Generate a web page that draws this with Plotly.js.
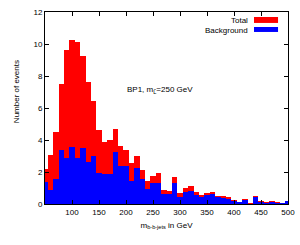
<!DOCTYPE html>
<html><head><meta charset="utf-8">
<script src="https://cdn.plot.ly/plotly-3.0.1.min.js"></script>
<style>html,body{margin:0;padding:0;background:#fff}#chart{width:300px;height:245px}</style>
</head><body><div id="chart"></div>
<script>
const binCenters = [50,60,70,80,90,100,110,120,130,140,150,160,170,180,190,200,210,220,230,240,250,260,270,280,290,300,310,320,330,340,350,360,370,380,390,400,410,420,430,440,450,460,470,480,490,500];
const totalEvents = [2.2,3.05,4.5,7.5,9.65,10.25,10.1,9.25,7.65,6.45,4.6,3.85,4.0,4.7,3.6,3.35,2.55,3.0,2.1,1.45,1.75,1.95,0.85,0.8,1.67,0.67,0.98,1.15,0.73,0.54,0.7,0.72,0.53,0.48,0.42,0.25,0.15,0.29,0.04,0.52,0.19,0.1,0.19,0.1,0.07,0.19];
const backgroundEvents = [1.4,0.9,1.55,3.35,2.85,3.55,2.85,3.5,2.6,3.0,1.95,1.85,1.9,3.25,2.4,2.4,1.45,2.25,1.55,0.93,1.3,1.33,0.65,0.6,1.3,0.46,0.77,0.79,0.55,0.42,0.56,0.6,0.42,0.4,0.33,0.2,0.1,0.24,0.02,0.46,0.15,0.08,0.15,0.08,0.04,0.19];
const xTickVals = [100,150,200,250,300,350,400,450,500];
const yTickVals = [0,2,4,6,8,10,12];
const seriesNames = ["Total","Background"];

const FONT = "Liberation Sans, Arial, sans-serif";
const traces = [
  {type:"bar", x:binCenters, y:totalEvents, width:10, name:seriesNames[0],
   marker:{color:"#ff0000", line:{width:0}}, showlegend:false},
  {type:"bar", x:binCenters, y:backgroundEvents, width:10, name:seriesNames[1],
   marker:{color:"#0000ff", line:{width:0}}, showlegend:false}
];
const axisCommon = {showline:true, linecolor:"#000", linewidth:1, mirror:"ticks",
  ticks:"inside", ticklen:4, tickcolor:"#000", showgrid:false, zeroline:false,
  tickfont:{family:FONT, size:8, color:"#000"}};
const layout = {
  width:300, height:245, margin:{l:45, r:12, t:12, b:41},
  paper_bgcolor:"#fff", plot_bgcolor:"#fff", barmode:"overlay", bargap:0,
  showlegend:false,
  xaxis: Object.assign({}, axisCommon, {range:[50,500], tickvals:xTickVals,
    title:{text:"m<sub>b-b-jets</sub> in GeV", font:{family:FONT, size:8, color:"#000"}, standoff:6}}),
  yaxis: Object.assign({}, axisCommon, {range:[0,12], tickvals:yTickVals}),
  annotations:[
    {xref:"paper", yref:"paper", x:-0.119, y:0.583, text:"Number of events", textangle:-90,
     showarrow:false, font:{family:FONT, size:8, color:"#000"}, xanchor:"center", yanchor:"middle"},
    {xref:"paper", yref:"paper", x:0.329, y:0.594, text:"BP1, m<sub>L̃</sub>=250 GeV",
     showarrow:false, font:{family:FONT, size:8, color:"#000"}, xanchor:"left", yanchor:"middle"},
    {xref:"paper", yref:"paper", x:0.844, y:0.958, text:seriesNames[0],
     showarrow:false, font:{family:FONT, size:8, color:"#000"}, xanchor:"right", yanchor:"middle"},
    {xref:"paper", yref:"paper", x:0.844, y:0.906, text:seriesNames[1],
     showarrow:false, font:{family:FONT, size:8, color:"#000"}, xanchor:"right", yanchor:"middle"}
  ],
  shapes:[
    {type:"rect", xref:"paper", yref:"paper", x0:0.86, x1:0.959, y0:0.943, y1:0.974, fillcolor:"#ff0000", line:{width:0}},
    {type:"rect", xref:"paper", yref:"paper", x0:0.86, x1:0.959, y0:0.896, y1:0.922, fillcolor:"#0000ff", line:{width:0}}
  ]
};
Plotly.newPlot("chart", traces, layout, {staticPlot:true, displayModeBar:false});
</script>
</body></html>
